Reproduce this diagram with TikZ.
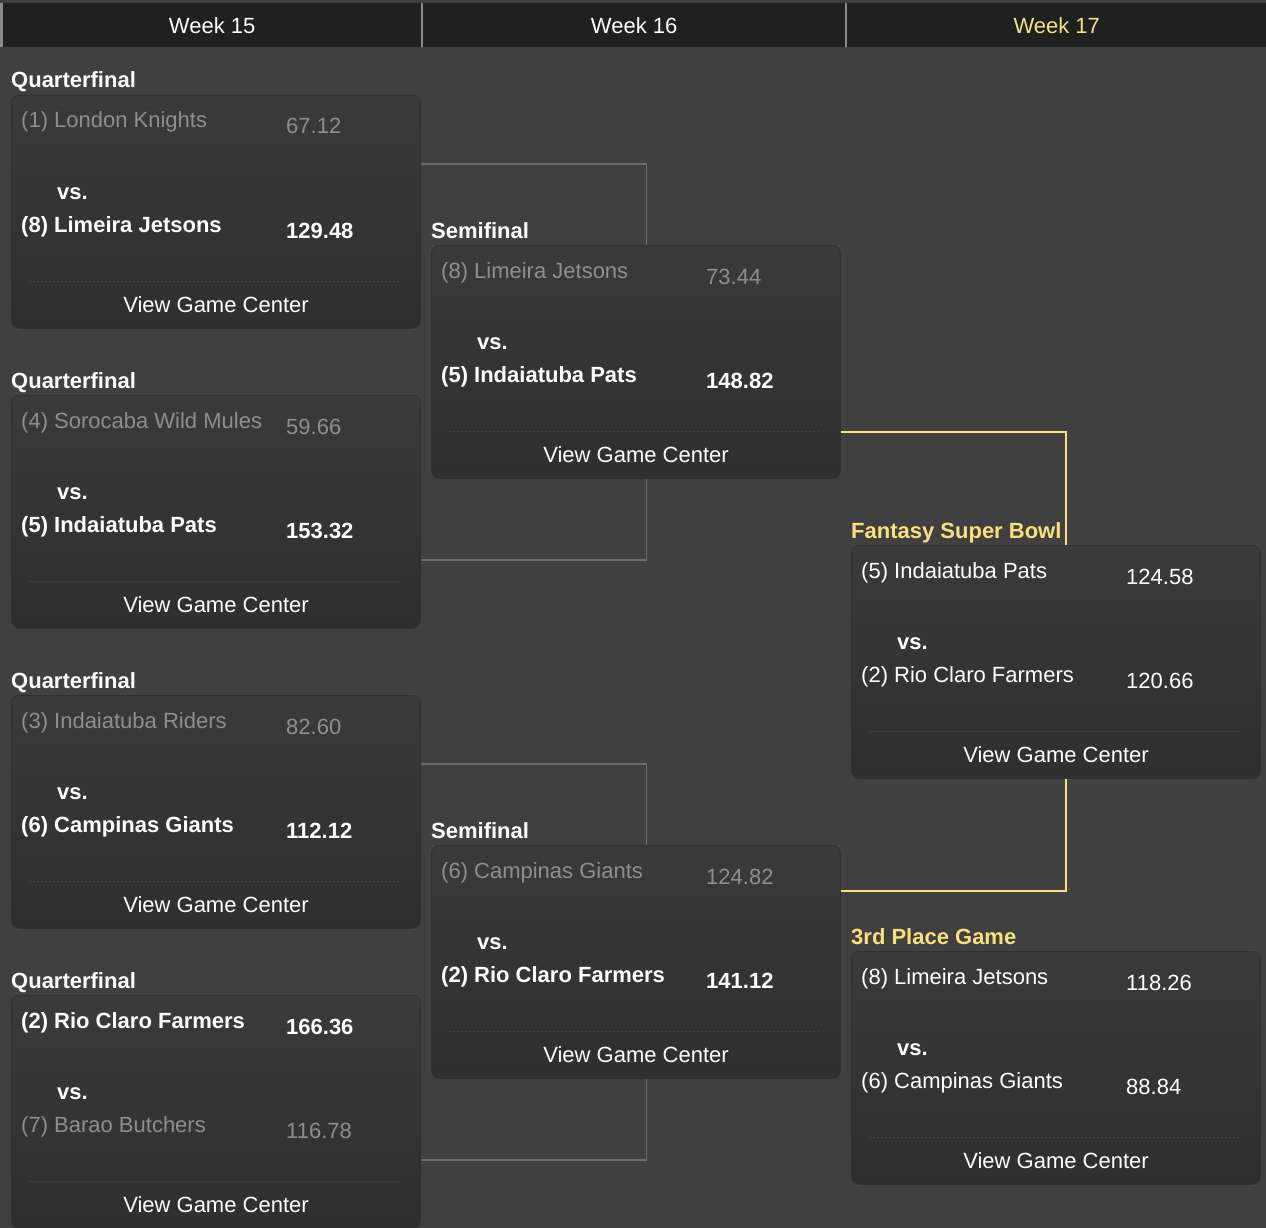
\documentclass[tikz,border=0pt]{standalone}
\usepackage{fontspec}
\setmainfont{Liberation Sans}
\definecolor{bg}{HTML}{404040}
\definecolor{hdrbg}{HTML}{202020}
\definecolor{cardtop}{HTML}{3A3A3A}
\definecolor{cardbot}{HTML}{2F2F2F}
\definecolor{cardedge}{HTML}{303030}
\definecolor{losetxt}{HTML}{8E8E8E}
\definecolor{gold}{HTML}{F6E27C}
\definecolor{brk}{HTML}{6C6C6C}
\definecolor{dots}{HTML}{555555}
\newcommand\fs{\fontsize{22pt}{26pt}\selectfont}
\newcommand\matchcard[9]{%
 \node[card] (#1) at (#2,#3) {};
 \node[#6, anchor=base west] (#1-a) at ({#2+10},{#3+33}) {#4};
 \node[#6, anchor=base west] (#1-as) at ({#2+275},{#3+39}) {#5};
 \node[vstext, anchor=base west] (#1-vs) at ({#2+46},{#3+104}) {vs.};
 \node[#9, anchor=base west] (#1-b) at ({#2+10},{#3+137}) {#7};
 \node[#9, anchor=base west] (#1-bs) at ({#2+275},{#3+143}) {#8};
 \draw[dotline] ({#2+19},{#3+186}) -- ({#2+389},{#3+186});
 \node[linktext, anchor=base] (#1-link) at ({#2+205},{#3+217}) {View Game Center};
}
\tikzset{
 card/.style={anchor=north west, minimum width=409pt, minimum height=233pt, inner sep=0pt,
   rounded corners=8pt, top color=cardtop, bottom color=cardbot, draw=cardedge, line width=0.8pt},
 win/.style={inner sep=0pt, font=\fs\bfseries, text=white},
 lose/.style={inner sep=0pt, font=\fs, text=losetxt},
 plain/.style={inner sep=0pt, font=\fs, text=white},
 vstext/.style={inner sep=0pt, font=\fs\bfseries, text=white},
 linktext/.style={inner sep=0pt, font=\fs, text=white},
 dotline/.style={draw=dots, line width=1pt, dash pattern=on 1pt off 3pt},
 lbl/.style={inner sep=0pt, font=\fs\bfseries, text=white, anchor=base west},
 goldlbl/.style={lbl, text=gold},
 hdr/.style={anchor=north west, fill=hdrbg, minimum height=44pt, inner sep=0pt,
   font=\fs, text=white, text height=15.8pt, text depth=0pt},
 bracket/.style={draw=brk, line width=1.6pt},
 goldline/.style={draw=gold, line width=2pt},
}
\begin{document}
\begin{tikzpicture}[x=1pt,y=-1pt]
\fill[bg] (0,0) rectangle (1266,1228);
\useasboundingbox (0,0) rectangle (1266,1228);
% header
\fill[brk!80] (0,3) rectangle (1266,47);
\node[hdr, minimum width=418pt] (h15) at (3,3) {Week 15};
\node[hdr, minimum width=422pt] (h16) at (423,3) {Week 16};
\node[hdr, minimum width=419pt, text=gold] (h17) at (847,3) {Week 17};
% round labels
\node[lbl] (l-qf1) at (11,88) {Quarterfinal};
\node[lbl] (l-qf2) at (11,388) {Quarterfinal};
\node[lbl] (l-qf3) at (11,688) {Quarterfinal};
\node[lbl] (l-qf4) at (11,988) {Quarterfinal};
\node[lbl] (l-sf1) at (431,238) {Semifinal};
\node[lbl] (l-sf2) at (431,838) {Semifinal};
\node[goldlbl] (l-fin) at (851,538) {Fantasy Super Bowl};
\node[goldlbl] (l-third) at (851,944) {3rd Place Game};
% matches
\matchcard{qf1}{11}{95}{(1) London Knights}{67.12}{lose}{(8) Limeira Jetsons}{129.48}{win}
\matchcard{qf2}{11}{395}{(4) Sorocaba Wild Mules}{59.66}{lose}{(5) Indaiatuba Pats}{153.32}{win}
\matchcard{qf3}{11}{695}{(3) Indaiatuba Riders}{82.60}{lose}{(6) Campinas Giants}{112.12}{win}
\matchcard{qf4}{11}{995}{(2) Rio Claro Farmers}{166.36}{win}{(7) Barao Butchers}{116.78}{lose}
\matchcard{sf1}{431}{245}{(8) Limeira Jetsons}{73.44}{lose}{(5) Indaiatuba Pats}{148.82}{win}
\matchcard{sf2}{431}{845}{(6) Campinas Giants}{124.82}{lose}{(2) Rio Claro Farmers}{141.12}{win}
\matchcard{fin}{851}{545}{(5) Indaiatuba Pats}{124.58}{plain}{(2) Rio Claro Farmers}{120.66}{plain}
\matchcard{third}{851}{951}{(8) Limeira Jetsons}{118.26}{plain}{(6) Campinas Giants}{88.84}{plain}
% brackets
\draw[bracket] ([yshift=-69pt]qf1.north east) -| ([xshift=10.5pt]sf1.north);
\draw[bracket] ([yshift=-165pt]qf2.north east) -| ([xshift=10.5pt]sf1.south);
\draw[bracket] ([yshift=-69pt]qf3.north east) -| ([xshift=10.5pt]sf2.north);
\draw[bracket] ([yshift=-165pt]qf4.north east) -| ([xshift=10.5pt]sf2.south);
\draw[goldline] ([yshift=-187pt]sf1.north east) -| ([xshift=10.5pt]fin.north);
\draw[goldline] ([yshift=-46pt]sf2.north east) -| ([xshift=10.5pt]fin.south);
\end{tikzpicture}
\end{document}
